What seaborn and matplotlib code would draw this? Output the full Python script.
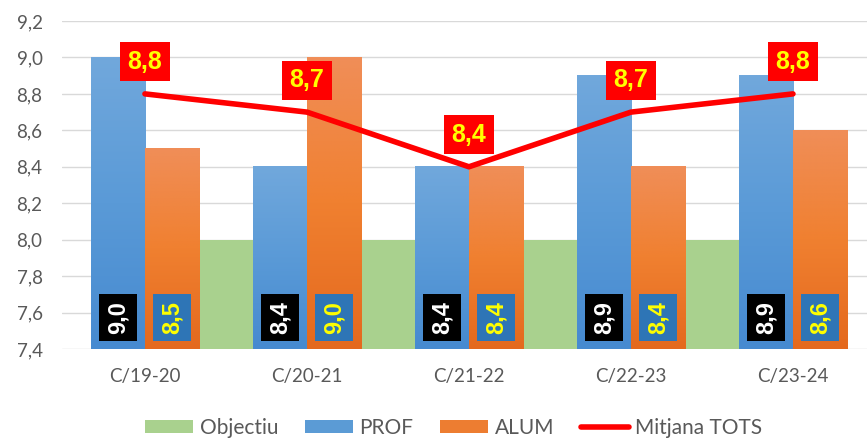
import numpy as np
import pandas as pd
import matplotlib
matplotlib.use("Agg")
import matplotlib.pyplot as plt
import seaborn as sns
from matplotlib.colors import LinearSegmentedColormap
from matplotlib.lines import Line2D
from matplotlib.patches import Patch

# ---- data ----
categories = ["C/19-20", "C/20-21", "C/21-22", "C/22-23", "C/23-24"]
objectiu = [8.0, 8.0, 8.0, 8.0, np.nan]
prof = [9.0, 8.4, 8.4, 8.9, 8.9]
alum = [8.5, 9.0, 8.4, 8.4, 8.6]
mitjana = [8.8, 8.7, 8.4, 8.7, 8.8]
yticks = [7.4, 7.6, 7.8, 8.0, 8.2, 8.4, 8.6, 8.8, 9.0, 9.2]
series_names = ["PROF", "ALUM", "Objectiu"]

sns.set_theme(style="white")
plt.rcParams["font.family"] = ["Lato", "DejaVu Sans"]

GRAY = "#595959"
GREEN = "#A9D18E"
BLUE = "#5B9BD5"
ORANGE = "#ED7D31"

fig = plt.figure(figsize=(8.67, 4.40), dpi=100)
ax = fig.add_axes([62 / 867, 91 / 440, 805 / 867, 328 / 440])

df = pd.DataFrame({
    "cat": categories * 3,
    "serie": ["PROF"] * 5 + ["ALUM"] * 5 + ["Objectiu"] * 5,
    "val": prof + alum + objectiu,
})
df = df.dropna()

sns.barplot(data=df, x="cat", y="val", hue="serie", hue_order=series_names,
            order=categories,
            palette={"PROF": BLUE, "ALUM": ORANGE, "Objectiu": GREEN},
            width=1.0, gap=0, dodge=True, saturation=1, errorbar=None,
            linewidth=0, legend=False, ax=ax)

ymin, ymax = 7.4, 9.2
grads = {
    0: LinearSegmentedColormap.from_list("b", ["#71A8DC", "#5A9AD7", "#468AD0"]),
    1: LinearSegmentedColormap.from_list("o", ["#F08E58", "#F08030", "#E4691E"]),
}
g = np.linspace(0, 1, 256).reshape(-1, 1)
for ci, cont in enumerate(ax.containers):
    if ci not in grads:
        continue
    for bar in cont:
        x0, w, h = bar.get_x(), bar.get_width(), bar.get_height()
        ax.imshow(g, extent=[x0, x0 + w, ymin, h], origin="upper", aspect="auto",
                  cmap=grads[ci], zorder=bar.get_zorder(), interpolation="bilinear")
        bar.set_visible(False)

xc = np.arange(len(categories)) - 1 / 6

# line
ax.plot(xc, mitjana, color="#FF0000", lw=4.0, solid_capstyle="round", zorder=6)

def fmt(v):
    return f"{v:.1f}".replace(".", ",")

for i, v in enumerate(mitjana):
    ax.text(xc[i], v + 0.176, fmt(v), ha="center", va="center", color="#FFFF00",
            fontsize=18, fontweight="bold", family="Liberation Sans", zorder=7,
            bbox=dict(boxstyle="square,pad=0.3", fc="#FF0000", ec="none"))

for i, v in enumerate(prof):
    ax.text(i - 1 / 3, 7.575, fmt(v), rotation=90, ha="center", va="center",
            color="white", fontsize=17, fontweight="bold", family="Liberation Sans",
            zorder=7, bbox=dict(boxstyle="square,pad=0.3", fc="black", ec="none"))
for i, v in enumerate(alum):
    ax.text(i, 7.575, fmt(v), rotation=90, ha="center", va="center",
            color="#FFFF00", fontsize=17, fontweight="bold", family="Liberation Sans",
            zorder=7, bbox=dict(boxstyle="square,pad=0.3", fc="#2E75B6", ec="none"))

ax.set_xlim(-1 / 6 - 0.512, 4 - 1 / 6 + 0.457)
ax.set_ylim(ymin, ymax)
ax.set_yticks(yticks, [fmt(v) for v in yticks])
ax.set_xticks(xc, categories)
ax.set_xlabel("")
ax.set_ylabel("")
ax.set_axisbelow(True)
ax.yaxis.grid(True, color="#D9D9D9", lw=1)
for s in ax.spines.values():
    s.set_visible(False)
ax.tick_params(axis="y", length=0, pad=14, labelsize=13.5, labelcolor=GRAY)
ax.tick_params(axis="x", length=0, pad=14, labelsize=13.5, labelcolor=GRAY)

handles = [Patch(fc=GREEN, ec="none"), Patch(fc=BLUE, ec="none"),
           Patch(fc=ORANGE, ec="none"), Line2D([], [], color="#FF0000", lw=4.0)]
labels = ["Objectiu", "PROF", "ALUM", "Mitjana TOTS"]
leg = fig.legend(handles, labels, loc="center", bbox_to_anchor=(454 / 867, 12 / 440),
                 ncol=4, frameon=False, fontsize=15, handlelength=2.3,
                 handleheight=0.6, handletextpad=0.3, columnspacing=1.3)
for t in leg.get_texts():
    t.set_color(GRAY)

fig.savefig("out.png", dpi=100)
